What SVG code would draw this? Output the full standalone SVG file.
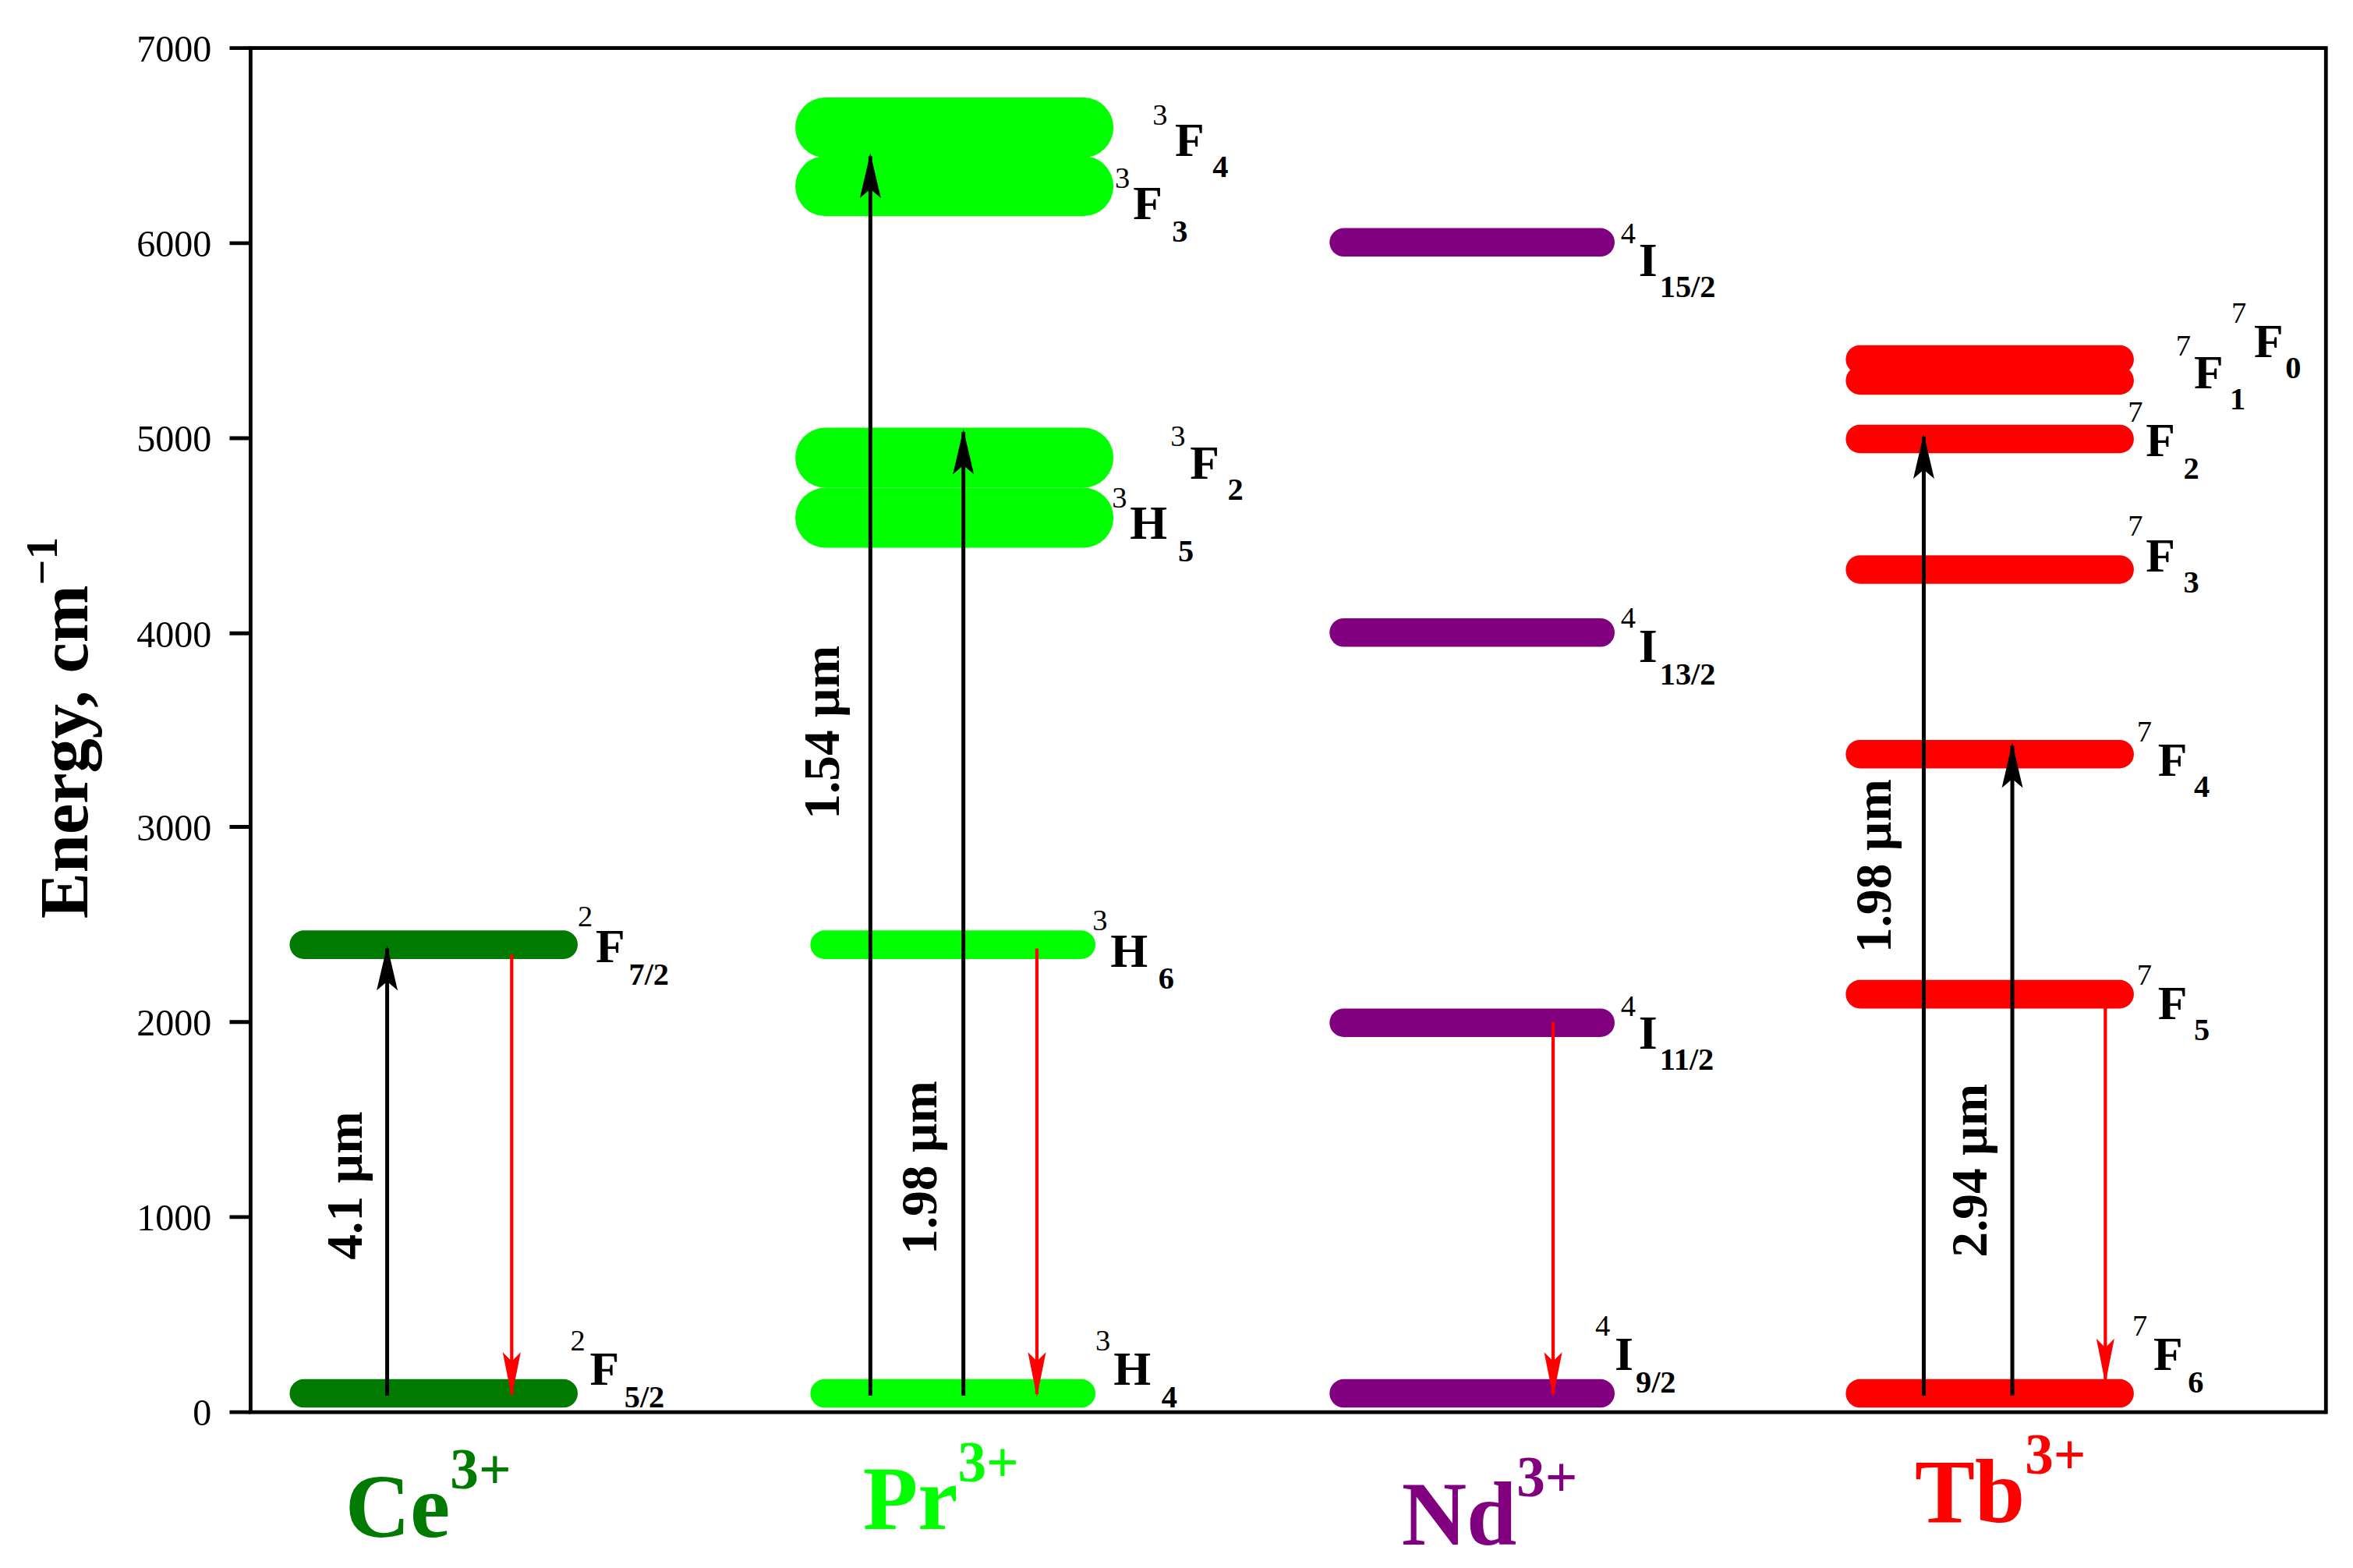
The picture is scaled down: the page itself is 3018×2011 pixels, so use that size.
<svg xmlns="http://www.w3.org/2000/svg" width="3018" height="2011" viewBox="0 0 3018 2011">
<style>
.tk{font-family:"Liberation Serif",serif;font-size:25px;text-anchor:end}
.T{font-family:"Liberation Serif",serif;font-weight:bold;font-size:32px}
.s{font-family:"Liberation Serif",serif;font-size:20px}
.b{font-family:"Liberation Serif",serif;font-weight:bold;font-size:21px}
.ar{stroke:#000;stroke-width:2.6;fill:none}
.rd{stroke:#f00;stroke-width:2.2;fill:none}
.wl{font-family:"Liberation Serif",serif;font-weight:bold;font-size:34px;text-anchor:middle}
.ion{font-family:"Liberation Serif",serif;font-weight:bold;font-size:60px}
.ionS{font-family:"Liberation Serif",serif;font-weight:bold;font-size:38px}
</style>
<defs>
<marker id="ab" markerUnits="userSpaceOnUse" markerWidth="32" markerHeight="16" refX="29" refY="8" orient="auto" viewBox="0 0 32 16"><path d="M31,8 L1,1 L7,8 L1,15 Z" fill="#000"/></marker>
<marker id="ar" markerUnits="userSpaceOnUse" markerWidth="32" markerHeight="16" refX="29" refY="8" orient="auto" viewBox="0 0 32 16"><path d="M31,8 L1,2 L7,8 L1,14 Z" fill="#f00"/></marker>
</defs>
<rect width="3018" height="2011" fill="#fff"/>
<g transform="scale(1.9247)">
<g id="axes">
<rect x="167" y="32" width="1383" height="909" fill="none" stroke="#000" stroke-width="2.5"/>
<path d="M153,32H167M153,162H167M153,292H167M153,422H167M153,551H167M153,681H167M153,811H167M153,941H167" stroke="#000" stroke-width="2.5"/>
<text class="tk" x="141" y="41">7000</text><text class="tk" x="141" y="171">6000</text><text class="tk" x="141" y="301">5000</text><text class="tk" x="141" y="431">4000</text><text class="tk" x="141" y="560">3000</text><text class="tk" x="141" y="690">2000</text><text class="tk" x="141" y="820">1000</text><text class="tk" x="141" y="950">0</text>
<text transform="translate(58,485) rotate(-90)" text-anchor="middle" font-family="Liberation Serif,serif" font-weight="bold" font-size="46">Energy, cm<tspan dy="-20" font-size="30">−1</tspan></text>
</g>
<g id="ce">
<rect x="193" y="919" width="192" height="19" rx="9.5" fill="#007a00"/>
<rect x="193" y="620" width="192" height="19" rx="9.5" fill="#007a00"/>
<text class="s" x="385" y="617">2</text><text class="T" x="397" y="641">F</text><text class="b" x="419" y="656">7/2</text>
<text class="s" x="380" y="900">2</text><text class="T" x="393" y="923">F</text><text class="b" x="416" y="938">5/2</text>
<text class="ion" x="230" y="1024" fill="#007a00">Ce<tspan class="ionS" dy="-32">3+</tspan></text>
</g>
<g id="pr">
<rect x="540" y="919" width="190" height="19" rx="9.5" fill="#00ff00"/>
<rect x="540" y="620" width="190" height="19" rx="9.5" fill="#00ff00"/>
<rect x="530" y="325" width="212" height="40" rx="20" fill="#00ff00"/>
<rect x="530" y="285" width="212" height="40" rx="20" fill="#00ff00"/>
<rect x="530" y="104" width="212" height="40" rx="20" fill="#00ff00"/>
<rect x="530" y="65" width="212" height="40" rx="20" fill="#00ff00"/>
<text class="s" x="768" y="83">3</text><text class="T" x="783" y="104">F</text><text class="b" x="808" y="118">4</text>
<text class="s" x="743" y="125">3</text><text class="T" x="755" y="146">F</text><text class="b" x="781" y="161">3</text>
<text class="s" x="780" y="297">3</text><text class="T" x="793" y="319">F</text><text class="b" x="818" y="333">2</text>
<text class="s" x="741" y="338">3</text><text class="T" x="753" y="359">H</text><text class="b" x="785" y="374">5</text>
<text class="s" x="728" y="620">3</text><text class="T" x="740" y="644">H</text><text class="b" x="772" y="659">6</text>
<text class="s" x="730" y="900">3</text><text class="T" x="742" y="923">H</text><text class="b" x="774" y="938">4</text>
<text class="ion" x="575" y="1019" fill="#00ff00">Pr<tspan class="ionS" dy="-32">3+</tspan></text>
</g>
<g id="nd">
<rect x="886" y="919" width="190" height="19" rx="9.5" fill="#800080"/>
<rect x="886" y="672" width="190" height="19" rx="9.5" fill="#800080"/>
<rect x="886" y="412" width="190" height="19" rx="9.5" fill="#800080"/>
<rect x="886" y="152" width="190" height="19" rx="9.5" fill="#800080"/>
<text class="s" x="1080" y="162">4</text><text class="T" x="1092" y="184">I</text><text class="b" x="1106" y="198">15/2</text>
<text class="s" x="1080" y="418">4</text><text class="T" x="1092" y="441">I</text><text class="b" x="1106" y="456">13/2</text>
<text class="s" x="1080" y="677">4</text><text class="T" x="1092" y="699">I</text><text class="b" x="1106" y="713">11/2</text>
<text class="s" x="1063" y="890">4</text><text class="T" x="1076" y="913">I</text><text class="b" x="1090" y="928">9/2</text>
<text class="ion" x="934" y="1029" fill="#800080">Nd<tspan class="ionS" dy="-32">3+</tspan></text>
</g>
<g id="tb">
<rect x="1230" y="919" width="192" height="19" rx="9.5" fill="#f00"/>
<rect x="1230" y="653" width="192" height="19" rx="9.5" fill="#f00"/>
<rect x="1230" y="493" width="192" height="19" rx="9.5" fill="#f00"/>
<rect x="1230" y="370" width="192" height="19" rx="9.5" fill="#f00"/>
<rect x="1230" y="283" width="192" height="19" rx="9.5" fill="#f00"/>
<rect x="1230" y="244" width="192" height="19" rx="9.5" fill="#f00"/>
<rect x="1230" y="230" width="192" height="19" rx="9.5" fill="#f00"/>
<text class="s" x="1487" y="215">7</text><text class="T" x="1502" y="238">F</text><text class="b" x="1523" y="252">0</text>
<text class="s" x="1450" y="237">7</text><text class="T" x="1462" y="259">F</text><text class="b" x="1486" y="273">1</text>
<text class="s" x="1418" y="281">7</text><text class="T" x="1430" y="304">F</text><text class="b" x="1455" y="319">2</text>
<text class="s" x="1418" y="357">7</text><text class="T" x="1430" y="381">F</text><text class="b" x="1455" y="395">3</text>
<text class="s" x="1424" y="494">7</text><text class="T" x="1438" y="517">F</text><text class="b" x="1462" y="531">4</text>
<text class="s" x="1424" y="656">7</text><text class="T" x="1438" y="679">F</text><text class="b" x="1462" y="693">5</text>
<text class="s" x="1421" y="890">7</text><text class="T" x="1435" y="913">F</text><text class="b" x="1458" y="928">6</text>
<text class="ion" x="1276" y="1014" fill="#f00">Tb<tspan class="ionS" dy="-32">3+</tspan></text>
</g>
<g id="connectors">
<path class="ar" d="M258,930V632" marker-end="url(#ab)"/>
<path class="rd" d="M341,636V929" marker-end="url(#ar)"/>
<path class="ar" d="M580,930V104" marker-end="url(#ab)"/>
<path class="ar" d="M642,930V288" marker-end="url(#ab)"/>
<path class="rd" d="M691,632V929" marker-end="url(#ar)"/>
<path class="rd" d="M1035,681V929" marker-end="url(#ar)"/>
<path class="ar" d="M1282,930V291" marker-end="url(#ab)"/>
<path class="ar" d="M1341,930V497" marker-end="url(#ab)"/>
<path class="rd" d="M1403,662V920" marker-end="url(#ar)"/>
<text class="wl" transform="translate(241,790) rotate(-90)">4.1 µm</text>
<text class="wl" transform="translate(559,488) rotate(-90)">1.54 µm</text>
<text class="wl" transform="translate(624,778) rotate(-90)">1.98 µm</text>
<text class="wl" transform="translate(1260,577) rotate(-90)">1.98 µm</text>
<text class="wl" transform="translate(1324,780) rotate(-90)">2.94 µm</text>
</g>
</g>
</svg>
